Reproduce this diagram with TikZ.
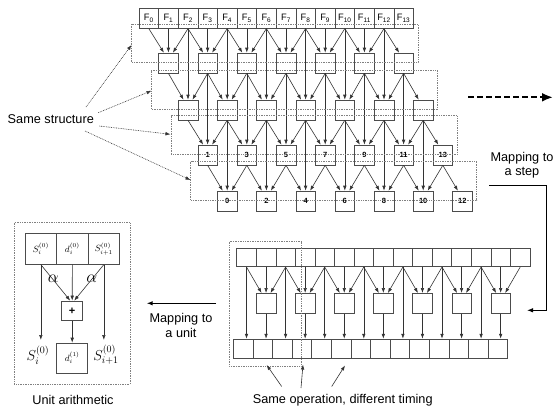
\documentclass[tikz,border=0pt]{standalone}
\usepackage{fontspec}
\setmainfont{Liberation Sans}
\usetikzlibrary{arrows.meta}
\begin{document}
\begin{tikzpicture}[x=1pt,y=-1pt,
  box/.style={draw=black!70, line width=0.6pt, minimum width=19.6pt, minimum height=20pt, inner sep=0pt},
  ubox/.style={draw=black!70, line width=0.6pt, minimum width=31.5pt, minimum height=31pt, inner sep=0pt},
  ftxt/.style={font=\fontsize{9.3}{10}\selectfont},
  ntxt/.style={font=\fontsize{7.5}{8}\selectfont\bfseries},
  lbl/.style={font=\fontsize{12.7}{14.5}\selectfont, inner sep=0pt},
  arr/.style={draw=black!80, line width=0.6pt, -{Latex[length=5pt,width=3.6pt]}},
  grp/.style={draw=black!50, line width=0.7pt, dash pattern=on 0.8pt off 0.9pt},
  note/.style={draw=black!80, line width=0.6pt, dash pattern=on 0.8pt off 0.9pt, -{Latex[length=5pt,width=3.6pt]}},
  map/.style={draw=black, line width=1pt, -{Latex[length=6pt,width=4.5pt]}}
]
\useasboundingbox (0,0) rectangle (556,410);

% ---------- upper structure: input row F0..F13 ----------
\foreach \c in {0,...,13}
  \node[box, ftxt] (u0-\c) at ({148.8+19.6*\c},18.3) {F\textsubscript{\c}};
% rows 1 and 2: unlabelled butterflies
\foreach \r/\y in {1/63,2/110} {
  \foreach \k in {0,...,6} {
    \pgfmathtruncatemacro\c{\r+2*\k}
    \node[box] (u\r-\c) at ({148.8+19.6*\c},\y) {};
  }
}
% row 3: odd outputs, row 4: even outputs
\foreach \k in {0,...,6} {
  \pgfmathtruncatemacro\c{3+2*\k}
  \pgfmathtruncatemacro\n{2*\k+1}
  \node[box, ntxt] (u3-\c) at ({148.8+19.6*\c},155) {\n};
}
\foreach \k in {0,...,6} {
  \pgfmathtruncatemacro\c{4+2*\k}
  \pgfmathtruncatemacro\n{2*\k}
  \node[box, ntxt] (u4-\c) at ({148.8+19.6*\c},201) {\n};
}
% connections between consecutive rows
\foreach \r in {1,...,4} {
  \foreach \k in {0,...,6} {
    \pgfmathtruncatemacro\c{\r+2*\k}
    \pgfmathtruncatemacro\p{\r-1}
    \pgfmathtruncatemacro\q{max(\r-2,0)}
    \pgfmathtruncatemacro\cl{\c-1}
    \pgfmathtruncatemacro\cr{\c+1}
    \draw[arr] (u\p-\cl.south) -- ([xshift=-4.5pt]u\r-\c.north);
    \ifnum\k<6
      \draw[arr] (u\p-\cr.south) -- ([xshift=4.5pt]u\r-\c.north);
      \draw[arr] (u\q-\c.south) -- (u\r-\c.north);
    \fi
  }
}
% stage outlines
\foreach \r/\t/\b in {0/24/62.7,1/70.7/109.3,2/115.7/154.3,3/161.5/200}
  \draw[grp] ({131.7+19.6*\r},\t) rectangle ({418+19.6*\r},\b);

% ---------- "Same structure" annotation ----------
\node[lbl] (same) at (50.8,119) {Same structure};
\coordinate (s1a) at (86,107);   \coordinate (s1b) at (131.5,45);
\coordinate (s2a) at (98.3,112.7); \coordinate (s2b) at (151.5,90.7);
\coordinate (s3a) at (99.3,126); \coordinate (s3b) at (170.5,134.3);
\coordinate (s4a) at (85,131);   \coordinate (s4b) at (190.5,180);
\draw[note] (s1a) -- (s1b);
\draw[note] (s2a) -- (s2b);
\draw[note] (s3a) -- (s3b);
\draw[note] (s4a) -- (s4b);

% ---------- dashed arrow and "Mapping to a step" ----------
\coordinate (da) at (468,97.3); \coordinate (db) at (553,97.3);
\draw[draw=black, line width=2.2pt, dash pattern=on 6pt off 3pt, -{Latex[length=11pt,width=9pt]}] (da) -- (db);
\node[lbl, align=center] (mstep) at (522,165) {Mapping to\\a step};
\coordinate (ms0) at (489,185);
\coordinate (ms1) at (527,310.3);
\draw[map] (ms0) -- (546,185) -- (546,310.3) -- (ms1);

% ---------- lower structure ----------
\foreach \c in {0,...,14}
  \node[box, minimum width=19.55pt, minimum height=18.5pt] (l0-\c) at ({246.5+19.55*\c},257.5) {};
\foreach \c in {1,3,...,13}
  \node[box, minimum width=19.5pt] (l1-\c) at ({246.5+19.55*\c},303.3) {};
\foreach \c in {0,...,13}
  \node[box, minimum height=19.3pt] (l2-\c) at ({243.1+19.6*\c},348.7) {};
\foreach \c in {1,3,...,13} {
  \pgfmathtruncatemacro\cl{\c-1}
  \pgfmathtruncatemacro\cr{\c+1}
  \draw[arr] (l0-\cl.south) -- ([xshift=-4.5pt]l1-\c.north);
  \draw[arr] (l0-\c.south) -- (l1-\c.north);
  \draw[arr] (l0-\cr.south) -- ([xshift=4.5pt]l1-\c.north);
  \draw[arr] (l1-\c.south) -- (l1-\c.south |- l2-\c.north);
}
\foreach \c in {0,2,...,12}
  \draw[arr] (l0-\c.south) -- (l0-\c.south |- l2-\c.north);
\draw[grp] (229.3,241.7) rectangle (301,366);

% ---------- "Same operation, different timing" ----------
\node[lbl] (oper) at (342.7,400) {Same operation, different timing};
\coordinate (o1a) at (281.7,386.5); \coordinate (o1b) at (266.7,365);
\coordinate (o2a) at (301,388);     \coordinate (o2b) at (303,364.5);
\coordinate (o3a) at (331.7,386.5); \coordinate (o3b) at (345,365.5);
\draw[arr] (o1a) -- (o1b);
\draw[arr] (o2a) -- (o2b);
\draw[arr] (o3a) -- (o3b);

% ---------- "Mapping to a unit" ----------
\node[lbl, align=center] (munit) at (181,325.5) {Mapping to\\a unit};
\coordinate (mu0) at (216,303.3); \coordinate (mu1) at (146.7,303.3);
\draw[map] (mu0) -- (mu1);

% ---------- unit arithmetic ----------
\draw[grp] (14.3,222.7) rectangle (130,384);
\node[ubox, font=\fontsize{9}{10}\selectfont] (ua) at (40.85,248.8) {$S_i^{(0)}$};
\node[ubox, font=\fontsize{9}{10}\selectfont] (ud) at (72.35,248.8) {$d_i^{(0)}$};
\node[ubox, font=\fontsize{9}{10}\selectfont] (ub) at (103.85,248.8) {$S_{i+1}^{(0)}$};
\node[box, minimum width=21pt, minimum height=19.7pt, font=\fontsize{11}{12}\selectfont\bfseries] (plus) at (72.2,310.8) {+};
\node[ubox, minimum width=31pt, minimum height=30pt, font=\fontsize{9}{10}\selectfont] (dn) at (72.2,358) {$d_i^{(1)}$};
\coordinate (sl) at (40.85,340);
\coordinate (sr) at (103.85,340);
\draw[arr] (ua.south) -- ([xshift=-2pt]plus.north);
\draw[arr] (ud.south) -- (plus.north);
\draw[arr] (ub.south) -- ([xshift=2pt]plus.north);
\draw[arr] (ua.south) -- (sl);
\draw[arr] (ub.south) -- (sr);
\draw[arr] (plus.south) -- (dn.north);
\node[font=\fontsize{18}{19}\selectfont, inner sep=0pt] (al) at (53.3,278.3) {$\alpha$};
\node[font=\fontsize{18}{19}\selectfont, inner sep=0pt] (ar) at (91.7,278.3) {$\alpha$};
\node[font=\fontsize{14}{15}\selectfont, inner sep=0pt] (sbl) at (38,355) {$S_i^{(0)}$};
\node[font=\fontsize{14}{15}\selectfont, inner sep=0pt] (sbr) at (106,355) {$S_{i+1}^{(0)}$};
\node[lbl] (unit) at (73,400) {Unit arithmetic};
\end{tikzpicture}
\end{document}
